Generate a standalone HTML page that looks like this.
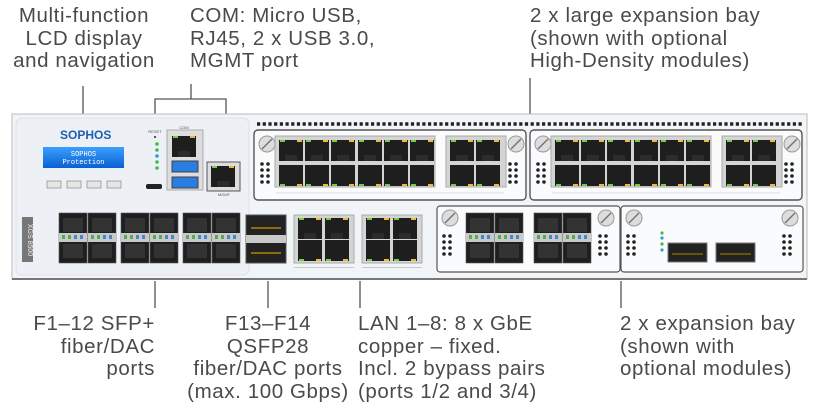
<!DOCTYPE html>
<html><head><meta charset="utf-8"><style>
html,body{margin:0;padding:0;background:#fff;}
body{width:830px;height:418px;position:relative;overflow:hidden;font-family:"Liberation Sans",sans-serif;}
.t{position:absolute;font-size:20.5px;line-height:22.7px;color:#4a4a4a;white-space:nowrap;letter-spacing:0.6px}
</style></head><body>
<div class="t" style="left:4px;top:5px;width:160px;text-align:center">Multi-function<br>LCD display<br>and navigation</div>
<div class="t" style="left:190px;top:5px">COM: Micro USB,<br>RJ45, 2 x USB 3.0,<br>MGMT port</div>
<div class="t" style="left:530px;top:5px">2 x large expansion bay<br>(shown with optional<br>High-Density modules)</div>
<div class="t" style="left:0px;top:313px;width:155px;text-align:right">F1–12 SFP+<br>fiber/DAC<br>ports</div>
<div class="t" style="left:172px;top:313px;width:192px;text-align:center">F13–F14<br>QSFP28<br>fiber/DAC ports<br>(max. 100 Gbps)</div>
<div class="t" style="left:358px;top:313px">LAN 1–8: 8 x GbE<br>copper – fixed.<br>Incl. 2 bypass pairs<br>(ports 1/2 and 3/4)</div>
<div class="t" style="left:620px;top:313px">2 x expansion bay<br>(shown with<br>optional modules)</div>

<svg width="830" height="418" style="position:absolute;left:0;top:0" xmlns="http://www.w3.org/2000/svg">
<defs>
<linearGradient id="lcd" x1="0" y1="0" x2="0" y2="1"><stop offset="0" stop-color="#3aa0ff"/><stop offset="1" stop-color="#0a5fd0"/></linearGradient>
<g id="rj"><rect x="0" y="0" width="24" height="21" fill="#1e1e1e"/><rect x="1" y="0" width="5" height="2" fill="#7c4"/><rect x="18" y="0" width="5" height="2" fill="#eb3"/><rect x="6" y="15" width="12" height="6" fill="#2c2c2c"/></g>
<g id="rjb"><rect x="0" y="0" width="24" height="21" fill="#1e1e1e"/><rect x="1" y="19" width="5" height="2" fill="#7c4"/><rect x="18" y="19" width="5" height="2" fill="#eb3"/></g>
<g id="sfp"><rect x="0" y="0" width="28" height="50" fill="#1f1f1f" stroke="#555" stroke-width="0.6"/><rect x="4" y="5" width="20" height="14" fill="#333"/><rect x="4" y="31" width="20" height="14" fill="#333"/><rect x="0" y="20" width="28" height="9" fill="#c9c9c9"/><rect x="3" y="22" width="3" height="4" fill="#5a5"/><rect x="9" y="22" width="3" height="4" fill="#5a5"/><rect x="15" y="22" width="3" height="4" fill="#48c"/><rect x="21" y="22" width="3" height="4" fill="#48c"/></g>
<g id="screw"><circle cx="0" cy="0" r="8" fill="#ddd" stroke="#999"/><line x1="-5" y1="5" x2="5" y2="-5" stroke="#777" stroke-width="1.5"/></g>
<g id="dots"><circle cx="0" cy="0" r="1.8" fill="#222"/><circle cx="6" cy="0" r="1.8" fill="#222"/><circle cx="0" cy="6" r="1.8" fill="#222"/><circle cx="6" cy="6" r="1.8" fill="#222"/><circle cx="0" cy="12" r="1.8" fill="#222"/><circle cx="6" cy="12" r="1.8" fill="#222"/><circle cx="0" cy="18" r="1.8" fill="#222"/><circle cx="6" cy="18" r="1.8" fill="#222"/></g>
<g id="bay">
 <rect x="0" y="0" width="272" height="70" rx="4" fill="#fafbfc" stroke="#555" stroke-width="1.4"/>
 <use href="#screw" x="13" y="14"/><use href="#dots" x="8" y="34"/>
 <rect x="21" y="6" width="160" height="51" fill="#d4d4d4" stroke="#aaa"/>
 <use href="#rj" x="25" y="10"/><use href="#rj" x="51" y="10"/><use href="#rj" x="77" y="10"/><use href="#rj" x="104" y="10"/><use href="#rj" x="130" y="10"/><use href="#rj" x="156" y="10"/>
 <use href="#rjb" x="25" y="35"/><use href="#rjb" x="51" y="35"/><use href="#rjb" x="77" y="35"/><use href="#rjb" x="104" y="35"/><use href="#rjb" x="130" y="35"/><use href="#rjb" x="156" y="35"/>
 <rect x="192" y="6" width="60" height="51" fill="#d4d4d4" stroke="#aaa"/>
 <use href="#rj" x="196" y="10"/><use href="#rj" x="222" y="10"/><use href="#rjb" x="196" y="35"/><use href="#rjb" x="222" y="35"/>
 <use href="#screw" x="262" y="14"/><use href="#dots" x="256" y="34"/>
 <line x1="22" y1="63" x2="250" y2="63" stroke="#bbb" stroke-width="0.6"/>
</g>
</defs>

<g stroke="#555" stroke-width="1.3" fill="none">
<line x1="83" y1="86" x2="83" y2="145"/>
<line x1="191" y1="84" x2="191" y2="99"/>
<polyline points="155,124 155,99 226,99 226,160"/>
<line x1="530" y1="78" x2="530" y2="116"/>
<line x1="155" y1="281" x2="155" y2="308"/>
<line x1="268" y1="281" x2="268" y2="308"/>
<line x1="360" y1="281" x2="360" y2="308"/>
<line x1="621" y1="281" x2="621" y2="308"/>
</g>

<rect x="12" y="114" width="795" height="165" fill="#f2f5f8" stroke="#bbb"/>
<line x1="12" y1="279" x2="807" y2="279" stroke="#777" stroke-width="2"/>
<rect x="16" y="118" width="233" height="157" rx="6" fill="#edf1f5" stroke="#dde"/>
<line x1="257" y1="124" x2="802" y2="124" stroke="#222" stroke-width="3.5" stroke-dasharray="3.2 2.5"/>

<text x="60" y="139" font-family="Liberation Sans" font-weight="bold" font-size="12" fill="#1a5fb4">SOPHOS</text>
<rect x="43" y="147" width="81" height="21" fill="url(#lcd)"/>
<text x="83.5" y="156" text-anchor="middle" font-family="Liberation Mono" font-size="7" fill="#fff">SOPHOS</text>
<text x="83.5" y="164" text-anchor="middle" font-family="Liberation Mono" font-size="7" fill="#fff">Protection</text>
<g fill="#e6e6e6" stroke="#888" stroke-width="0.7"><rect x="47" y="181" width="14" height="7"/><rect x="67" y="181" width="14" height="7"/><rect x="87" y="181" width="14" height="7"/><rect x="107" y="181" width="14" height="7"/></g>
<text x="155" y="133" text-anchor="middle" font-size="4" fill="#555">RESET</text>
<circle cx="155" cy="137" r="1" fill="#222"/>
<g fill="#4b4"><circle cx="157" cy="144" r="1.8"/><circle cx="157" cy="150" r="1.8"/><circle cx="157" cy="162" r="1.8"/><circle cx="157" cy="168" r="1.8"/></g>
<circle cx="157" cy="156" r="1.8" fill="#39d"/>
<rect x="167" y="130" width="36" height="60" fill="#ddd" stroke="#aaa"/>
<text x="184" y="129" text-anchor="middle" font-size="4" fill="#555">COM</text>
<use href="#rj" x="172" y="136"/>
<rect x="172" y="161" width="26" height="11" fill="#2a7de0" stroke="#444"/>
<rect x="172" y="177" width="26" height="11" fill="#2a7de0" stroke="#444"/>
<rect x="146" y="184" width="16" height="5" rx="2" fill="#222"/>
<rect x="207" y="162" width="33" height="29" fill="#ddd" stroke="#555"/>
<use href="#rj" x="211" y="166"/>
<text x="224" y="196" text-anchor="middle" font-size="4" fill="#555">MGMT</text>
<rect x="22" y="217" width="11" height="45" fill="#777"/>
<text x="28" y="240" transform="rotate(90 28 240)" text-anchor="middle" font-size="7" fill="#eee">XGS 8500</text>

<use href="#sfp" x="59" y="213"/><use href="#sfp" x="88" y="213"/>
<use href="#sfp" x="121" y="213"/><use href="#sfp" x="150" y="213"/>
<use href="#sfp" x="183" y="213"/><use href="#sfp" x="212" y="213"/>
<rect x="246" y="215" width="40" height="48" fill="#222" stroke="#555"/>
<rect x="246" y="235" width="40" height="8" fill="#c9c9c9"/>
<line x1="251" y1="228" x2="281" y2="228" stroke="#a80" stroke-width="1.5"/>
<line x1="251" y1="253" x2="281" y2="253" stroke="#a80" stroke-width="1.5"/>
<rect x="294" y="215" width="60" height="48" fill="#d4d4d4" stroke="#aaa"/>
<use href="#rj" x="298" y="218"/><use href="#rj" x="325" y="218"/><use href="#rjb" x="298" y="240"/><use href="#rjb" x="325" y="240"/>
<rect x="362" y="215" width="60" height="48" fill="#d4d4d4" stroke="#aaa"/>
<use href="#rj" x="366" y="218"/><use href="#rj" x="393" y="218"/><use href="#rjb" x="366" y="240"/><use href="#rjb" x="393" y="240"/>
<rect x="294" y="267" width="60" height="0.6" fill="#aaa"/><rect x="362" y="267" width="60" height="0.6" fill="#aaa"/>

<use href="#bay" x="254" y="130"/>
<use href="#bay" x="530" y="130"/>

<rect x="437" y="206" width="183" height="66" rx="3" fill="#fafbfc" stroke="#555" stroke-width="1.2"/>
<use href="#screw" x="450" y="218"/><use href="#dots" x="444" y="236"/>
<use href="#screw" x="606" y="218"/><use href="#dots" x="600" y="236"/>
<use href="#sfp" x="466" y="213"/><use href="#sfp" x="495" y="213"/>
<use href="#sfp" x="534" y="213"/><use href="#sfp" x="563" y="213"/>
<rect x="621" y="206" width="182" height="66" rx="3" fill="#fafbfc" stroke="#555" stroke-width="1.2"/>
<use href="#screw" x="634" y="218"/><use href="#dots" x="628" y="236"/>
<use href="#screw" x="790" y="218"/><use href="#dots" x="784" y="236"/>
<g fill="#4b4"><circle cx="662" cy="233" r="1.6"/><circle cx="662" cy="244" r="1.6"/></g>
<g fill="#39d"><circle cx="662" cy="238" r="1.6"/><circle cx="662" cy="250" r="1.6"/></g>
<rect x="668" y="243" width="39" height="19" fill="#222" stroke="#777"/>
<rect x="716" y="243" width="39" height="19" fill="#222" stroke="#777"/>
<line x1="672" y1="254" x2="703" y2="254" stroke="#a80"/>
<line x1="720" y1="254" x2="751" y2="254" stroke="#a80"/>
</svg>
</body></html>
